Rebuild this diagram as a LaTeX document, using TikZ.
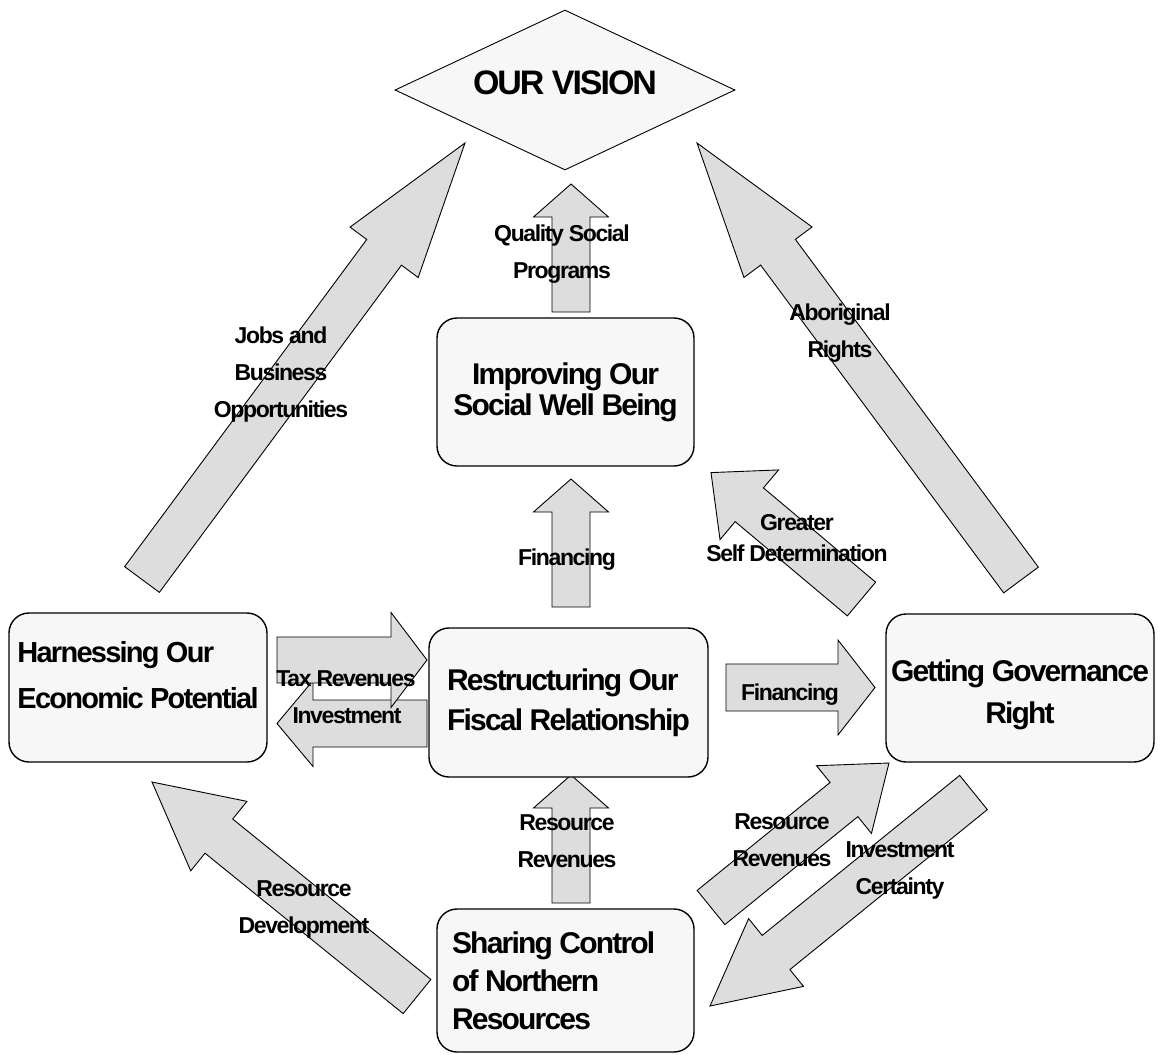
\documentclass[tikz,border=0pt]{standalone}
\usepackage{fontspec}
\setmainfont{Liberation Sans}[LetterSpace=-6]
\usepackage{tikz}
\usetikzlibrary{calc,shapes.geometric}

\definecolor{arrowgray}{HTML}{DDDDDD}
\definecolor{boxgray}{HTML}{F7F7F7}

% block arrow: tail, tip, half shaft width, half head width, head length
\newcommand{\blockarrow}[5]{%
	\coordinate (hb) at ($(#2)!#5!(#1)$);
	\draw[blk] ($(#1)!#3!90:(#2)$) -- ($(hb)!#3!90:(#2)$) -- ($(hb)!#4!90:(#2)$) -- (#2)
		-- ($(hb)!#4!-90:(#2)$) -- ($(hb)!#3!-90:(#2)$) -- ($(#1)!#3!-90:(#2)$) -- cycle;
}

\begin{document}
\begin{tikzpicture}[
	x=1pt, y=-1pt,
	blk/.style={
		draw, fill=arrowgray, line width=0.9pt
	},
	box/.style={
		draw, fill=boxgray, line width=1.4pt, rounded corners=20pt,
		inner sep=0pt, font=\bfseries\fontsize{30}{38}\selectfont
	},
	lbl/.style={
		anchor=north, inner sep=0pt, align=center,
		font=\bfseries\fontsize{23}{37}\selectfont
	}
]
\useasboundingbox (0,0) rectangle (1160,1055);

% arrow ends
\coordinate (jobs-s) at (142,579.5);
\coordinate (jobs-e) at (465,143);
\coordinate (rights-s) at (1021,580);
\coordinate (rights-e) at (697,143);
\coordinate (greater-s) at (861.5,599);
\coordinate (greater-e) at (711,472.6);
\coordinate (quality-s) at (571,312);
\coordinate (quality-e) at (571,184);
\coordinate (finup-s) at (571,607);
\coordinate (finup-e) at (571,479);
\coordinate (resrev-s) at (571,903);
\coordinate (resrev-e) at (571,775);
\coordinate (tax-s) at (277,660);
\coordinate (tax-e) at (427,660);
\coordinate (invest-s) at (427,723.5);
\coordinate (invest-e) at (277,723.5);
\coordinate (finright-s) at (726,687.5);
\coordinate (finright-e) at (875,687.5);
\coordinate (resdev-s) at (417,996.5);
\coordinate (resdev-e) at (152,782);
\coordinate (sharerev-s) at (711,907.5);
\coordinate (sharerev-e) at (889,763);
\coordinate (certain-s) at (973.5,792.5);
\coordinate (certain-e) at (710,1006);

\blockarrow{jobs-s}{jobs-e}{21.6pt}{42.4pt}{136pt}
\blockarrow{rights-s}{rights-e}{21.6pt}{42.4pt}{136pt}
\blockarrow{greater-s}{greater-e}{22pt}{45.5pt}{50pt}
\foreach \a in {quality,finup,resrev} {
	\blockarrow{\a-s}{\a-e}{19pt}{37.5pt}{33pt}
}
\blockarrow{invest-s}{invest-e}{23.5pt}{43pt}{36pt}
\blockarrow{tax-s}{tax-e}{23pt}{47.5pt}{36pt}
\blockarrow{finright-s}{finright-e}{23.5pt}{47.5pt}{37pt}
\blockarrow{resdev-s}{resdev-e}{22pt}{44.7pt}{86pt}
\blockarrow{sharerev-s}{sharerev-e}{22pt}{43.6pt}{58pt}
\blockarrow{certain-s}{certain-e}{22pt}{43.6pt}{85pt}

\node[diamond, draw, fill=boxgray, line width=0.9pt, aspect=2.125, inner sep=0pt,
	minimum width=340pt, minimum height=160pt,
	font=\bfseries\fontsize{34}{40}\selectfont] (vision) at (565,90)
	{OUR VISION\rule[-14pt]{0pt}{14pt}};

\node[box, minimum width=258pt, minimum height=149pt, align=left,
	font=\bfseries\fontsize{29}{46}\selectfont] (harness) at (138,687.5)
	{Harnessing Our\\Economic Potential\rule[-26pt]{0pt}{26pt}};
\node[box, minimum width=279pt, minimum height=149pt, align=left,
	font=\bfseries\fontsize{30}{40}\selectfont] (fiscal) at (568.5,702.5)
	{Restructuring Our\\Fiscal Relationship};
\node[box, minimum width=268pt, minimum height=148pt, align=center,
	font=\bfseries\fontsize{30}{42}\selectfont] (govern) at (1020,688)
	{\rule{0pt}{36pt}Getting Governance\\Right};
\node[box, minimum width=257pt, minimum height=148pt, align=center,
	font=\bfseries\fontsize{30}{31}\selectfont] (social) at (565.5,392)
	{Improving Our\\Social Well Being};
\node[box, minimum width=257pt, minimum height=143pt, text width=227pt,
	align=flush left] (sharing) at (565.5,980.5)
	{Sharing Control\\of Northern\\Resources};

% arrow labels
\node[lbl] (l-quality) at (562,224.5) {Quality Social\\Programs};
\node[lbl] (l-jobs) at (281,326.5) {Jobs and\\Business\\Opportunities};
\node[lbl] (l-rights) at (840,303.5) {Aboriginal\\Rights};
\node[lbl, font=\bfseries\fontsize{23}{31}\selectfont] (l-greater) at (797,514.5)
	{Greater\\Self Determination};
\node[lbl] (l-finup) at (567,548.5) {Financing};
\node[lbl] (l-tax) at (346,670.5) {Tax Revenues};
\node[lbl] (l-invest) at (347,707.5) {Investment};
\node[lbl] (l-finright) at (790,683.5) {Financing};
\node[lbl] (l-resrev) at (567,814.5) {Resource\\Revenues};
\node[lbl] (l-resdev) at (304,880.5) {Resource\\Development};
\node[lbl] (l-sharerev) at (782,813.5) {Resource\\Revenues};
\node[lbl] (l-certain) at (900,841.5) {Investment\\Certainty};
\end{tikzpicture}
\end{document}
